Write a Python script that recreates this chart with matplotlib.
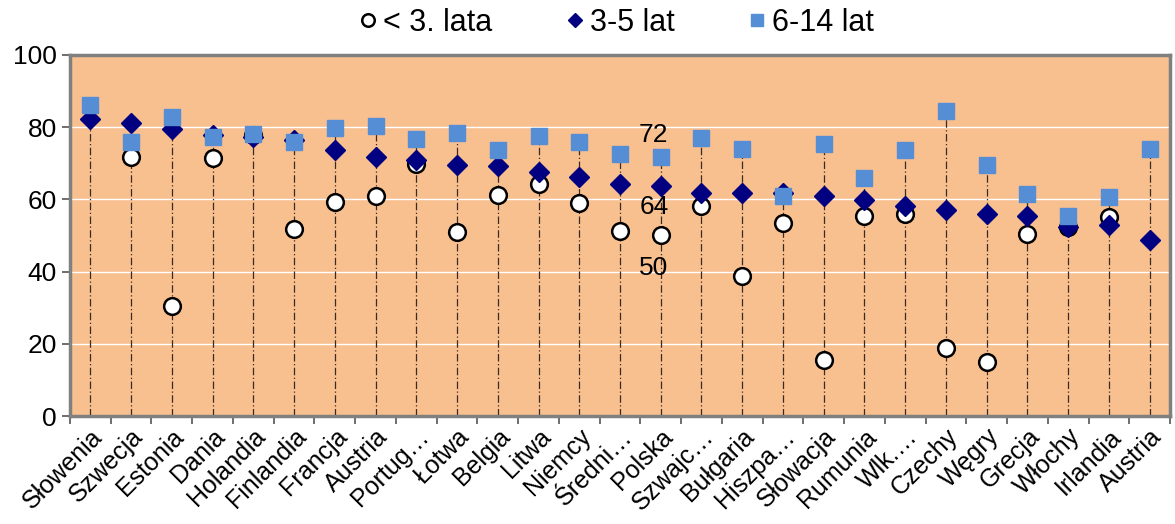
import numpy as np
import matplotlib
matplotlib.use('Agg')
import matplotlib.pyplot as plt

plt.rcParams['font.family'] = ['Liberation Sans', 'DejaVu Sans']

# --- dane ---
kraje = ['Słowenia', 'Szwecja', 'Estonia', 'Dania', 'Holandia', 'Finlandia',
         'Francja', 'Austria', 'Portug…', 'Łotwa', 'Belgia', 'Litwa', 'Niemcy',
         'Średni…', 'Polska', 'Szwajc…', 'Bułgaria', 'Hiszpa…', 'Słowacja',
         'Rumunia', 'Wlk.…', 'Czechy', 'Węgry', 'Grecja', 'Włochy', 'Irlandia',
         'Austria']
ponizej_3 = [np.nan, 71.8, 30.6, 71.4, 77.8, 51.8, 59.2, 61.0, 69.7, 50.9,
             61.2, 64.4, 58.9, 51.3, 50.1, 58.3, 38.9, 53.6, 15.5, 55.5,
             56.0, 18.7, 14.9, 50.3, 52.3, 55.2, np.nan]
lat_3_5 = [82.2, 81.3, 79.4, 77.8, 77.2, 76.5, 73.7, 71.7, 70.9, 69.5,
           69.3, 67.5, 66.3, 64.3, 63.8, 61.7, 61.7, 61.7, 61.0, 59.8,
           58.3, 57.2, 56.0, 55.5, 52.4, 52.9, 48.8]
lat_6_14 = [86.1, 76.0, 82.9, 77.4, 78.1, 76.0, 79.9, 80.2, 76.7, 78.3,
            73.7, 77.6, 76.0, 72.7, 71.8, 77.1, 73.9, 61.0, 75.3, 66.0,
            73.7, 84.6, 69.5, 61.4, 55.5, 60.8, 73.9]
etykiety_polska = [72, 64, 50]

x = np.arange(len(kraje))
a = np.array(ponizej_3)
b = np.array(lat_3_5)
c = np.array(lat_6_14)
gora = np.nanmax(np.vstack([a, b, c]), axis=0)

fig = plt.figure(figsize=(11.75, 5.24), dpi=100)
ax = fig.add_axes([70 / 1175, 1 - 416 / 524, 1100 / 1175, 361 / 524])
ax.set_facecolor('#F8BF8F')

# linie pomocnicze
for yy in [20, 40, 60, 80]:
    ax.axhline(yy, color='white', lw=1.0, zorder=1)

# linie opuszczone (kreska-kropka)
ax.vlines(x, 0, gora, colors='#3a2a20', linestyles=(0, (6, 2, 1, 2)),
          lw=0.9, zorder=2)

ax.plot(x, a, 'o', ms=12, mfc='white', mec='black', mew=1.8, zorder=3,
        label='< 3. lata')
ax.plot(x, b, 'D', ms=10, color='#000080', zorder=4, label='3-5 lat')
ax.plot(x, c, 's', ms=11, color='#558ED5', zorder=5, label='6-14 lat')

# etykiety dla Polski
ip = kraje.index('Polska')
ax.annotate(str(etykiety_polska[0]), (ip, c[ip]), xytext=(-5, 16),
            textcoords='offset points', fontsize=19, ha='center', va='center')
ax.annotate(str(etykiety_polska[1]), (ip, b[ip]), xytext=(-5, -15),
            textcoords='offset points', fontsize=19, ha='center', va='center')
ax.annotate(str(etykiety_polska[2]), (ip, a[ip]), xytext=(-5, -24),
            textcoords='offset points', fontsize=19, ha='center', va='center')

ax.set_xlim(-0.5, len(kraje) - 0.5)
ax.set_ylim(0, 100)
ax.set_yticks([0, 20, 40, 60, 80, 100])
ax.tick_params(axis='y', labelsize=19, length=6, width=1.2, color='#555555')

ax.set_xticks(x)
ax.set_xticklabels(kraje, rotation=45, ha='right', rotation_mode='anchor',
                   fontsize=18)
ax.set_xticks(np.arange(len(kraje) + 1) - 0.5, minor=True)
ax.tick_params(axis='x', which='major', length=0, pad=6)
ax.tick_params(axis='x', which='minor', length=6, width=1.2, color='#555555')

for s in ax.spines.values():
    s.set_color('#808080')
    s.set_linewidth(2.5)

fig.legend(loc='center', bbox_to_anchor=(0.522, 0.956), ncol=3,
           frameon=False, fontsize=22, handletextpad=0.0,
           columnspacing=2.2, markerscale=0.75, handlelength=1.0)

fig.savefig('out.png', dpi=100)
